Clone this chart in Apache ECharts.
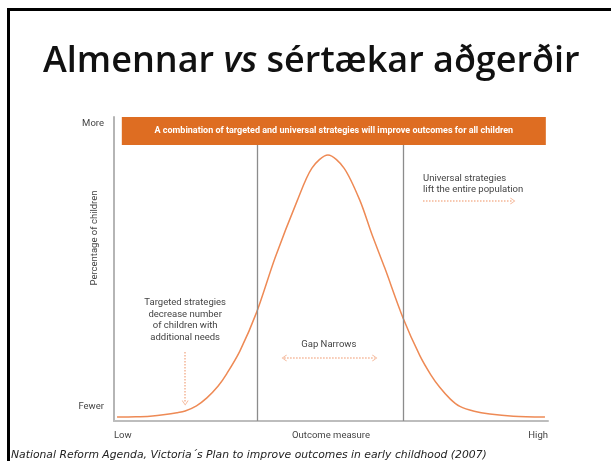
<!DOCTYPE html>
<html>
<head>
<meta charset="utf-8">
<script src="https://cdn.jsdelivr.net/npm/echarts@6/dist/echarts.min.js"></script>
<style>
  html, body { margin: 0; padding: 0; background: #fff; }
  #chart { width: 611px; height: 461px; }
</style>
</head>
<body>
<div id="chart"></div>
<script>
// curve (x: outcome 0..100, y: share of children 0..100)
const curveX = [0.7, 5.0, 8.3, 11.8, 14.5, 16.4, 19.0, 21.4, 24.0, 26.0, 29.0, 32.9, 37.1, 42.2, 45.6, 49.3, 53.0, 56.7, 59.4, 62.4, 66.6, 70.5, 73.0, 75.1, 77.5, 79.7, 83.0, 86.6, 92.0, 99.3];
const curveY = [1.3, 1.4, 1.6, 2.1, 2.7, 3.3, 5.0, 7.6, 11.5, 15.6, 23.0, 35.9, 53.6, 72.4, 83.2, 87.5, 83.2, 72.4, 61.5, 50.3, 33.9, 21.4, 15.2, 11.0, 7.2, 4.8, 3.2, 2.3, 1.6, 1.3];

const xTickLabels = ['Low', 'Outcome measure', 'High'];
const yTickLabels = ['Fewer', 'More'];
const dividers = [32.9, 66.6];

const bannerText = 'A combination of targeted and universal strategies will improve outcomes for all children';
const notes = [
  { text: 'Universal strategies\nlift the entire population', at: [71.2, 78], align: 'left' },
  { text: 'Targeted strategies\ndecrease number\nof children with\nadditional needs', at: [16.4, 33.2], align: 'center' },
  { text: 'Gap Narrows', at: [49.5, 25], align: 'center' }
];

const orange = '#de6d22';
const lineOrange = '#ee8a55';
const dotOrange = '#f4b596';
const chevron = 'path://M0,6 L5,0 L10,6 L8.6,6 L5,1.6 L1.4,6 Z';
const font = 'Roboto';

let myChart = echarts.init(document.getElementById('chart'));

let option = {
  backgroundColor: '#fff',
  animation: false,
  title: [{
    text: '{n|Almennar }{i|vs}{n| sértækar aðgerðir}',
    left: 38,
    top: 39,
    textStyle: {
      rich: {
        n: { fontFamily: 'Open Sans', fontWeight: 600, fontSize: 36, color: '#111' },
        i: { fontFamily: 'Open Sans', fontWeight: 600, fontStyle: 'italic', fontSize: 36, color: '#111' }
      }
    }
  }, {
    text: 'National Reform Agenda, Victoria´s Plan to improve outcomes in early childhood (2007)',
    left: 11,
    top: 450,
    padding: 0,
    textStyle: { fontFamily: 'DejaVu Sans', fontStyle: 'italic', fontWeight: 'normal', fontSize: 10.8, color: '#222' }
  }],
  graphic: [{
    type: 'rect',
    shape: { x: 8.5, y: 9.5, width: 700, height: 600 },
    style: { fill: 'none', stroke: '#000', lineWidth: 3 },
    silent: true
  }],
  grid: { left: 114, right: 63, top: 117, bottom: 40 },
  xAxis: {
    type: 'value',
    min: 0,
    max: 100,
    interval: 50,
    axisLine: { lineStyle: { color: '#bdbdbd', width: 2 } },
    axisTick: { show: false },
    splitLine: { show: false },
    axisLabel: {
      margin: 10,
      fontFamily: font,
      fontSize: 9.5,
      color: '#444',
      alignMinLabel: 'left',
      alignMaxLabel: 'right',
      formatter: function (v) {
        return xTickLabels[Math.round(v / 50)];
      }
    }
  },
  yAxis: {
    type: 'value',
    min: 0,
    max: 100,
    interval: 100,
    name: 'Percentage of children',
    nameLocation: 'middle',
    nameGap: 14,
    nameMoveOverlap: false,
    nameTextStyle: { fontFamily: font, fontSize: 9.5, color: '#444', padding: [0, 0, 0, 62] },
    axisLine: { lineStyle: { color: '#b5b5b5', width: 2 } },
    axisTick: { show: false },
    splitLine: { show: false },
    axisLabel: {
      margin: 10,
      fontFamily: font,
      fontSize: 9.5,
      color: '#444',
      verticalAlignMinLabel: 'bottom',
      verticalAlignMaxLabel: 'top',
      formatter: function (v) {
        return v === 0 ? '{lo|' + yTickLabels[0] + '}' : '{hi|' + yTickLabels[1] + '}';
      },
      rich: {
        lo: { fontFamily: font, fontSize: 9.5, color: '#444', padding: [0, 0, 9, 0] },
        hi: { fontFamily: font, fontSize: 9.5, color: '#444', padding: [2, 0, 0, 0] }
      }
    }
  },
  series: [{
    name: 'children',
    type: 'line',
    smooth: 0.3,
    symbol: 'none',
    lineStyle: { color: lineOrange, width: 1.5 },
    data: curveX.map((x, i) => [x, curveY[i]]),
    z: 3,
    markArea: {
      silent: true,
      itemStyle: { color: orange },
      label: {
        show: true,
        position: 'inside',
        color: '#fff',
        fontFamily: font,
        fontWeight: 'bold',
        fontSize: 9
      },
      data: [[{ name: bannerText, coord: [1.8, 90.8] }, { coord: [99.5, 100] }]]
    },
    markLine: {
      silent: true,
      symbol: 'none',
      label: { show: false },
      lineStyle: { color: '#8c8c8c', width: 1.3, type: 'solid' },
      data: [
        [{ coord: [dividers[0], 0] }, { coord: [dividers[0], 90.8] }],
        [{ coord: [dividers[1], 0] }, { coord: [dividers[1], 90.8] }],
        [{ coord: [16.4, 22.7], symbol: 'none', lineStyle: { color: dotOrange, type: 'dotted', width: 1.5 } },
         { coord: [16.4, 5.9], symbol: chevron, symbolSize: [7, 5] }],
        [{ coord: [71.2, 72.4], symbol: 'none', lineStyle: { color: dotOrange, type: 'dotted', width: 1.5 } },
         { coord: [91.9, 72.4], symbol: chevron, symbolSize: [7, 5] }],
        [{ coord: [39.2, 20.7], symbol: chevron, symbolSize: [7, 5], lineStyle: { color: dotOrange, type: 'dotted', width: 1.5 } },
         { coord: [60.1, 20.7], symbol: chevron, symbolSize: [7, 5] }]
      ]
    },
    markPoint: {
      silent: true,
      symbol: 'circle',
      symbolSize: 0,
      data: notes.map(n => ({
        coord: n.at,
        value: n.text,
        label: {
          show: true,
          position: 'inside',
          formatter: n.text,
          align: n.align,
          verticalAlign: 'middle',
          lineHeight: 11.5,
          fontFamily: font,
          fontSize: 9.5,
          color: '#444'
        }
      }))
    }
  }]
};
myChart.setOption(option);

window.addEventListener('resize', function () {
  myChart.resize();
});
</script>
</body>
</html>
